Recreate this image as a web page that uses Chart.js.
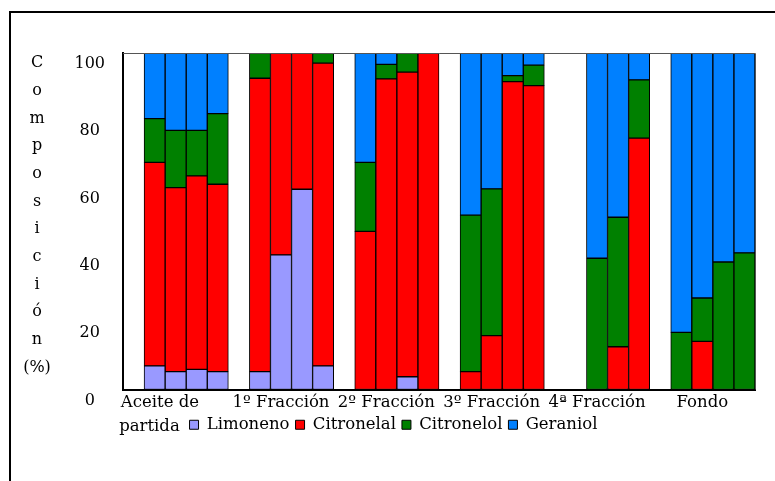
<!DOCTYPE html>
<html>
<head>
<meta charset="utf-8">
<script src="https://cdn.jsdelivr.net/npm/chart.js@4/dist/chart.umd.min.js"></script>
<style>
  html, body { margin: 0; padding: 0; background: #fff; }
  #wrap { width: 775px; height: 481px; }
</style>
</head>
<body>
<div id="wrap"><canvas id="comp" width="775" height="481"></canvas></div>
<script>
// grupos (fracciones) y 4 muestras por grupo
// (espacios al final: el primer rótulo va alineado a la izquierda)
const groups = [['Aceite de      ', 'partida          '], '1º Fracción', '2º Fracción', '3º Fracción', '4ª Fracción', 'Fondo'];
const yTicks = [0, 20, 40, 60, 80, 100];
const yTitle = ['C', 'o', 'm', 'p', 'o', 's', 'i', 'c', 'i', 'ó', 'n', '(%)'];

const limoneno   = [7, 5.3, 6, 5.3,   5.3, 40, 59.5, 7,   0, 0, 3.8, 0,      0, 0, 0, 0,          0, 0, 0, 0,         0, 0, 0, 0];
const citronelal = [60.5, 54.7, 57.5, 55.7, 87.2, 60, 40.5, 90, 47, 92.3, 90.5, 100, 5.3, 16, 91.5, 90.3, 0, 0, 12.7, 74.7, 0, 14.3, 0, 0];
const citronelol = [13, 17, 13.5, 21, 7.5, 0, 0, 3,      20.5, 4.3, 5.7, 0,  46.5, 43.6, 1.8, 6.1, 0, 39, 38.5, 17.3, 17, 12.9, 37.9, 40.6];
const geraniol   = [19.5, 23, 23, 18, 0, 0, 0, 0,        32.5, 3.4, 0, 0,    48.2, 40.4, 6.7, 3.6, 0, 61, 48.8, 8,    83, 72.8, 62.1, 59.4];

const FONT = '"DejaVu Serif", "Liberation Serif", serif';

// un hueco blanco antes de cada grupo -> 30 posiciones
function slots(arr) {
    let out = [];
    for (let g = 0; g < groups.length; g++) {
        out.push(null);
        for (let k = 0; k < 4; k++) {
            let v = arr[g * 4 + k];
            out.push(v ? v : null);
        }
    }
    return out;
}
const slotLabels = slots(limoneno).map((v, i) => 's' + i);

function ds(label, data, color) {
    return {
        label: label,
        data: slots(data),
        backgroundColor: color,
        borderColor: '#000',
        borderWidth: 1,
        borderSkipped: false,
        barPercentage: 1,
        categoryPercentage: 1,
        xAxisID: 'x'
    };
}

const framePlugin = {
    id: 'frame',
    afterLayout(chart) {
        // la leyenda sube junto a "partida" y va algo a la derecha
        const lg = chart.legend;
        lg.left += 16;
        lg.right += 16;
        lg.top -= 28;
        lg.bottom -= 28;
    },
    afterDraw(chart) {
        const ctx = chart.ctx;
        const a = chart.chartArea;
        ctx.save();
        // marco exterior
        ctx.strokeStyle = '#000';
        ctx.lineWidth = 2;
        ctx.strokeRect(10, 12, 800, 500);
        // lados superior y derecho del area
        ctx.strokeStyle = '#555';
        ctx.lineWidth = 1;
        ctx.beginPath();
        ctx.moveTo(a.left, a.top + 0.5);
        ctx.lineTo(a.right + 0.5, a.top + 0.5);
        ctx.lineTo(a.right + 0.5, a.bottom);
        ctx.stroke();
        // titulo vertical letra a letra
        ctx.fillStyle = '#000';
        ctx.font = '16px ' + FONT;
        ctx.textAlign = 'center';
        ctx.textBaseline = 'middle';
        yTitle.forEach((ch, i) => {
            ctx.fillText(ch, 37, 63 + i * 27.7);
        });
        ctx.restore();
    }
};

new Chart(document.getElementById('comp'), {
    type: 'bar',
    data: {
        labels: slotLabels,
        datasets: [
            ds('Limoneno', limoneno, '#9999FF'),
            ds('Citronelal', citronelal, '#FF0000'),
            ds('Citronelol', citronelol, '#008000'),
            ds('Geraniol', geraniol, '#0080FF')
        ]
    },
    options: {
        responsive: false,
        animation: false,
        layout: { padding: { left: 0, top: 53, right: 20, bottom: 10 } },
        scales: {
            x: {
                stacked: true,
                grid: { display: false },
                border: { display: true, color: '#000', width: 2 },
                ticks: { display: false },
                afterFit: (s) => { s.height = 1; }
            },
            x2: {
                type: 'category',
                position: 'bottom',
                labels: groups.map((g, i) => 'g' + i),
                grid: { display: false, drawTicks: false },
                border: { display: false },
                ticks: {
                    color: '#000',
                    font: { family: FONT, size: 16.5, lineHeight: 1.45 },
                    padding: 0,
                    maxRotation: 0,
                    autoSkip: false,
                    callback: (v, i) => groups[i]
                },
                afterFit: (s) => { s.height = 48; }
            },
            y: {
                stacked: true,
                min: 0,
                max: 100,
                grid: { display: false, drawTicks: false },
                border: { display: true, color: '#000', width: 2 },
                afterBuildTicks: (s) => { s.ticks = yTicks.map(v => ({ value: v })); },
                ticks: {
                    color: '#000',
                    font: { family: FONT, size: 16 },
                    padding: 18,
                    crossAlign: 'center',
                    labelOffset: 11
                },
                afterFit: (s) => { s.width = 123; }
            }
        },
        plugins: {
            legend: {
                position: 'bottom',
                labels: {
                    color: '#000',
                    font: { family: FONT, size: 16.5 },
                    boxWidth: 9,
                    boxHeight: 9,
                    padding: 6
                }
            },
            tooltip: { enabled: false }
        }
    },
    plugins: [framePlugin]
});
</script>
</body>
</html>
